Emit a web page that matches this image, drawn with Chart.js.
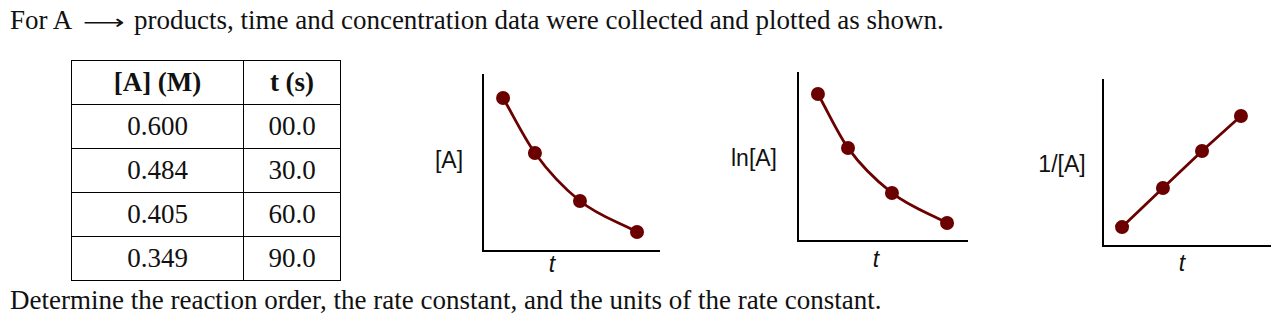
<!DOCTYPE html>
<html>
<head>
<meta charset="utf-8">
<script src="https://cdn.jsdelivr.net/npm/chart.js@4/dist/chart.umd.min.js"></script>
<style>
  body { margin: 0; width: 1286px; height: 335px; background: #fff; position: relative; overflow: hidden; }
  .txt { position: absolute; font-family: "Liberation Serif", "Times New Roman", serif; font-size: 27px; color: #111; white-space: nowrap; }
  .arrow { display: inline-block; font-family: "DejaVu Sans"; font-size: 20px; transform: scaleX(1.45); transform-origin: left center; margin-left: 5px; margin-right: 16px; }
  table { position: absolute; left: 71px; top: 60px; border-collapse: collapse; font-family: "Liberation Serif", serif; font-size: 27px; color: #111; }
  td, th { border: 1px solid #000; height: 43px; padding: 0; text-align: center; }
  .c1 { width: 171px; } .c2 { width: 96px; }
  .lbl { position: absolute; font-family: "Liberation Sans", Arial, sans-serif; font-size: 23px; color: #111; transform: translate(-50%, -50%); white-space: nowrap; }
  .lbl.t { font-style: italic; }
  canvas { position: absolute; }
</style>
</head>
<body>
<div class="txt" style="left:10px; top:5px;">For A <span class="arrow">⟶</span> products, time and concentration data were collected and plotted as shown.</div>
<table id="tbl"></table>
<div class="txt" style="left:10px; top:285px;">Determine the reaction order, the rate constant, and the units of the rate constant.</div>

<div class="lbl" style="left:449px; top:160px;">[A]</div>
<div class="lbl t" style="left:552px; top:264px;">t</div>
<div class="lbl" style="left:754px; top:158px;">ln[A]</div>
<div class="lbl t" style="left:876px; top:259px;">t</div>
<div class="lbl" style="left:1062px; top:164px;">1/[A]</div>
<div class="lbl t" style="left:1182px; top:263px;">t</div>

<canvas id="c1" style="left:479px; top:71px;" width="184" height="184"></canvas>
<canvas id="c2" style="left:794px; top:69px;" width="177" height="176"></canvas>
<canvas id="c3" style="left:1099px; top:76px;" width="175" height="174"></canvas>

<script>
// table data
const concA = ["0.600", "0.484", "0.405", "0.349"];
const timeS = ["00.0", "30.0", "60.0", "90.0"];

// sketch plots, positions (0-100 axis units)
const plotAx = [11.4, 29.5, 55.1, 87.5];
const plotAy = [86.9, 55.7, 28.4, 10.8];
const plotLnx = [11.8, 29.6, 55.6, 88.2];
const plotLny = [87.5, 55.4, 28.6, 10.7];
const plotInvx = [11.4, 35.9, 59.3, 82.6];
const plotInvy = [11.4, 34.9, 57.2, 78.3];

const tbl = document.getElementById('tbl');
let html = '<tr><th class="c1">[A] (M)</th><th class="c2">t (s)</th></tr>';
for (let i = 0; i < concA.length; i++) {
    html += '<tr><td class="c1">' + concA[i] + '</td><td class="c2">' + timeS[i] + '</td></tr>';
}
tbl.innerHTML = html;

const mark = '#6b0000';

const axis = (horiz) => ({
    type: 'linear',
    min: 0,
    max: 100,
    grid: { display: false },
    ticks: { display: false },
    border: { display: true, color: '#000', width: 2 },
    afterFit: (s) => { if (horiz) s.height = 0; else s.width = 0; }
});

const makePlot = (id, xs, ys, curved) => {
    new Chart(document.getElementById(id), {
        type: 'line',
        data: {
            datasets: [{
                data: xs.map((x, i) => ({ x: x, y: ys[i] })),
                borderColor: mark,
                backgroundColor: mark,
                borderWidth: 2.8,
                pointRadius: 7,
                pointBorderWidth: 0,
                cubicInterpolationMode: curved ? 'monotone' : 'default',
                tension: 0,
                clip: false
            }]
        },
        options: {
            responsive: false,
            animation: false,
            layout: { padding: 4, autoPadding: false },
            plugins: { legend: { display: false }, tooltip: { enabled: false } },
            scales: { x: axis(true), y: axis(false) }
        }
    });
};

makePlot('c1', plotAx, plotAy, true);
makePlot('c2', plotLnx, plotLny, true);
makePlot('c3', plotInvx, plotInvy, false);
</script>
</body>
</html>
